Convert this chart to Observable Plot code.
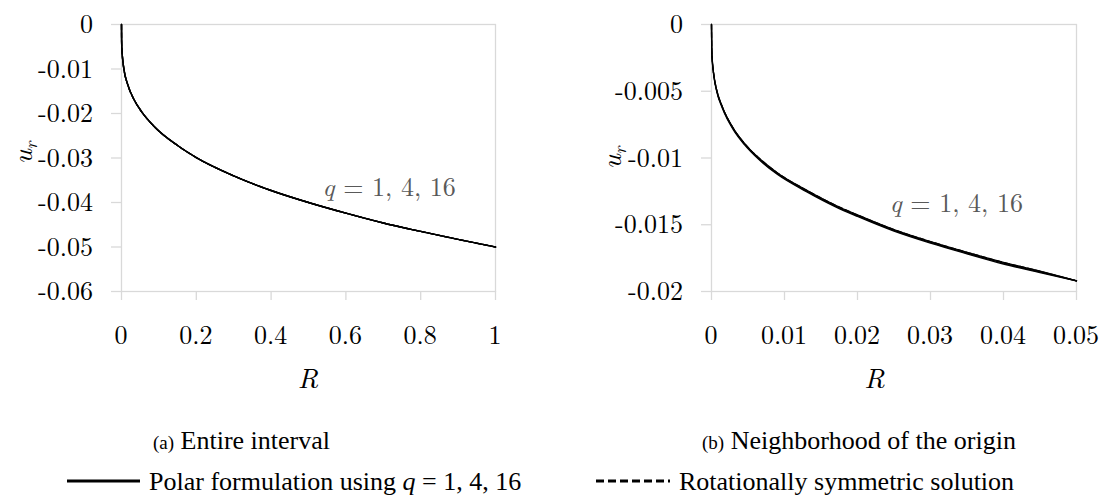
<!DOCTYPE html>
<html><head><meta charset="utf-8">
<script src="https://cdn.jsdelivr.net/npm/d3@7"></script>
<script src="https://cdn.jsdelivr.net/npm/@observablehq/plot@0.6"></script>
<style>
html,body{margin:0;padding:0;background:#fff;}
#wrap{position:relative;width:1100px;height:495px;overflow:hidden;color:#000;}
.panel{position:absolute;top:0;}
svg.overlay{position:absolute;left:0;top:0;overflow:visible;}
</style></head><body><div id="wrap"></div>
<script>
// ---- data ----
// (a) entire interval
const leftR      = [0, 0.0003, 0.001, 0.002, 0.006, 0.017, 0.033, 0.053, 0.086, 0.15, 0.2, 0.3, 0.4, 0.5, 0.6, 0.7, 0.8, 0.9, 1.0];
const leftPolar  = [0, -0.0037, -0.0055, -0.0068, -0.0098, -0.0136, -0.0168, -0.0195, -0.0228, -0.0272, -0.0299, -0.0340, -0.0373, -0.0400, -0.0424, -0.0446, -0.0465, -0.0483, -0.0500];
const leftRot    = [0, -0.0037, -0.0055, -0.0068, -0.0098, -0.0136, -0.0168, -0.0195, -0.0228, -0.0272, -0.0299, -0.0340, -0.0373, -0.0400, -0.0424, -0.0446, -0.0465, -0.0483, -0.0500];
// (b) neighborhood of the origin
const rightR        = [0, 0.00003, 0.0001, 0.0003, 0.00075, 0.0015, 0.003, 0.0045, 0.0065, 0.009, 0.013, 0.017, 0.02, 0.025, 0.03, 0.035, 0.04, 0.045, 0.05];
const rightPolarQ1  = [0, -0.0019, -0.0027, -0.0038, -0.0051, -0.0063, -0.0079, -0.0090, -0.01012, -0.01122, -0.01252, -0.01366, -0.01438, -0.01548, -0.01638, -0.01718, -0.01794, -0.01858, -0.0192];
const rightPolarQ4  = [0, -0.0018, -0.0026, -0.0037, -0.0050, -0.0062, -0.0078, -0.0089, -0.01006, -0.01116, -0.01246, -0.01360, -0.01432, -0.01542, -0.01632, -0.01712, -0.01788, -0.01853, -0.0192];
const rightPolarQ16 = [0, -0.0018, -0.0026, -0.0037, -0.0050, -0.0062, -0.0078, -0.0089, -0.01000, -0.01110, -0.01240, -0.01354, -0.01426, -0.01536, -0.01626, -0.01706, -0.01782, -0.01848, -0.0192];
const rightRot      = [0, -0.0018, -0.0026, -0.0037, -0.0050, -0.0062, -0.0078, -0.0089, -0.01000, -0.01110, -0.01240, -0.01354, -0.01426, -0.01536, -0.01626, -0.01706, -0.01782, -0.01848, -0.0192];

const leftXTicks  = [0, 0.2, 0.4, 0.6, 0.8, 1];
const leftXLabels = ["0", "0.2", "0.4", "0.6", "0.8", "1"];
const leftYTicks  = [0, -0.01, -0.02, -0.03, -0.04, -0.05, -0.06];
const leftYLabels = ["0", "-0.01", "-0.02", "-0.03", "-0.04", "-0.05", "-0.06"];
const rightXTicks  = [0, 0.01, 0.02, 0.03, 0.04, 0.05];
const rightXLabels = ["0", "0.01", "0.02", "0.03", "0.04", "0.05"];
const rightYTicks  = [0, -0.005, -0.01, -0.015, -0.02];
const rightYLabels = ["0", "-0.005", "-0.01", "-0.015", "-0.02"];

const captionA = "Entire interval";
const captionB = "Neighborhood of the origin";
const legendPolar = "Polar formulation using ";
const legendPolarQ = " = 1, 4, 16";
const legendRot = "Rotationally symmetric solution";
const annotText = " = 1, 4, 16";

const CM = "Latin Modern Roman, Liberation Serif, serif";
const TM = "Liberation Serif, Times New Roman, serif";
const GRAY = "#d9d9d9";
const wrap = document.getElementById("wrap");

function styleText(sel, fam, size) {
  sel.attr("font-family", fam).attr("font-size", size);
  sel.each(function() { this.style.setProperty("font-family", fam, "important"); this.style.setProperty("font-size", size + "px", "important"); });
  return sel;
}

function panel(cfg) {
  const rows = [];
  cfg.series.forEach(s => s.values.forEach((u, i) => rows.push({R: cfg.R[i], u, key: s.key, dashed: s.dashed})));
  const chart = Plot.plot({
    width: 550, height: 400,
    marginTop: 24, marginBottom: 109, marginLeft: cfg.mLeft, marginRight: cfg.mRight,
    style: {fontSize: "26px", fontFamily: CM, color: "#000", background: "transparent", overflow: "visible"},
    x: {domain: cfg.xDomain},
    y: {domain: cfg.yDomain},
    marks: [
      Plot.frame({stroke: GRAY, strokeWidth: 1.3}),
      Plot.axisX(cfg.xTicks, {tickSize: 9, tickFormat: () => "", color: GRAY, strokeWidth: 1.3, label: null}),
      Plot.axisY(cfg.yTicks, {tickSize: 10, tickFormat: () => "", color: GRAY, strokeWidth: 1.3, label: null}),
      Plot.line(rows.filter(d => !d.dashed), {x: "R", y: "u", z: "key", stroke: "#000", strokeWidth: cfg.sw, curve: "monotone-x"}),
      Plot.line(rows.filter(d => d.dashed), {x: "R", y: "u", z: "key", stroke: "#000", strokeWidth: cfg.sw, strokeDasharray: "5,3", curve: "monotone-x"})
    ]
  });
  const svg = d3.select(chart);
  const sx = chart.scale("x"), sy = chart.scale("y");
  const y0 = sy.apply(cfg.yDomain[0]), x0 = sx.apply(cfg.xDomain[0]);
  // tick labels positioned through the plot's scales
  const gx = svg.append("g");
  cfg.xTicks.forEach((t, i) => {
    styleText(gx.append("text").attr("x", sx.apply(t)).attr("y", y0 + 44).attr("dy", "0.35em")
      .attr("text-anchor", "middle").attr("fill", "#000").text(cfg.xLabels[i]), CM, 26);
  });
  const gy = svg.append("g");
  cfg.yTicks.forEach((t, i) => {
    styleText(gy.append("text").attr("x", x0 - 28).attr("y", sy.apply(t)).attr("dy", "0.35em")
      .attr("text-anchor", "end").attr("fill", "#000").text(cfg.yLabels[i]), CM, 26);
  });
  const yl = svg.append("text")
    .attr("transform", `translate(${cfg.yLabelX},${cfg.yLabelY}) rotate(-90)`)
    .attr("text-anchor", "middle").attr("dy", "0.35em").attr("font-style", "italic");
  styleText(yl, CM, 28);
  yl.append("tspan").text("u");
  styleText(yl.append("tspan").attr("dy", "0.3em").text("r"), CM, 18);
  styleText(svg.append("text")
    .attr("x", (sx.apply(cfg.xDomain[0]) + sx.apply(cfg.xDomain[1])) / 2 + cfg.xLabelShift)
    .attr("y", 378).attr("dy", "0.35em")
    .attr("text-anchor", "middle").attr("font-style", "italic").text("R"), CM, 28);
  const an = svg.append("text")
    .attr("x", sx.apply(cfg.annot[0])).attr("y", sy.apply(cfg.annot[1])).attr("dy", "0.35em")
    .attr("text-anchor", "middle").attr("fill", "#595959");
  styleText(an, CM, 26);
  an.append("tspan").attr("font-style", "italic").text("q");
  an.append("tspan").text(annotText);
  const div = document.createElement("div");
  div.className = "panel";
  div.style.left = cfg.left + "px";
  div.appendChild(chart);
  wrap.appendChild(div);
}

panel({
  left: 0, mLeft: 121, mRight: 55, sw: 1.4,
  R: leftR,
  series: [
    {key: "q1", values: leftPolar, dashed: false},
    {key: "q4", values: leftPolar, dashed: false},
    {key: "q16", values: leftPolar, dashed: false},
    {key: "rot", values: leftRot, dashed: true}
  ],
  xDomain: [0, 1], yDomain: [-0.06, 0],
  xTicks: leftXTicks, xLabels: leftXLabels, yTicks: leftYTicks, yLabels: leftYLabels,
  yLabelX: 22, yLabelY: 153, xLabelShift: 0,
  annot: [0.717, -0.0366]
});
panel({
  left: 550, mLeft: 161, mRight: 24, sw: 1.3,
  R: rightR,
  series: [
    {key: "q1", values: rightPolarQ1, dashed: false},
    {key: "q4", values: rightPolarQ4, dashed: false},
    {key: "q16", values: rightPolarQ16, dashed: false},
    {key: "rot", values: rightRot, dashed: true}
  ],
  xDomain: [0, 0.05], yDomain: [-0.02, 0],
  xTicks: rightXTicks, xLabels: rightXLabels, yTicks: rightYTicks, yLabels: rightYLabels,
  yLabelX: 61, yLabelY: 158, xLabelShift: -19,
  annot: [0.0336, -0.01339]
});

// captions and legend as SVG text
const ov = d3.create("svg").attr("class", "overlay").attr("width", 1100).attr("height", 495);
function capText(x, y, tag, text) {
  const t = ov.append("text").attr("x", x).attr("y", y).attr("dy", "0.35em").attr("fill", "#000");
  styleText(t, TM, 26);
  styleText(t.append("tspan").text(tag), TM, 19);
  styleText(t.append("tspan").text(" " + text), TM, 26);
}
capText(153, 440, "(a)", captionA);
capText(702, 440, "(b)", captionB);

ov.append("line").attr("x1", 67).attr("x2", 140).attr("y1", 481).attr("y2", 481)
  .attr("stroke", "#000").attr("stroke-width", 3);
const lt1 = ov.append("text").attr("x", 149).attr("y", 481).attr("dy", "0.35em").attr("fill", "#000");
styleText(lt1, TM, 26);
lt1.append("tspan").text(legendPolar);
lt1.append("tspan").attr("font-style", "italic").text("q");
lt1.append("tspan").text(legendPolarQ);
ov.append("line").attr("x1", 596).attr("x2", 670).attr("y1", 481).attr("y2", 481)
  .attr("stroke", "#000").attr("stroke-width", 3).attr("stroke-dasharray", "8,4");
const lt2 = ov.append("text").attr("x", 679).attr("y", 481).attr("dy", "0.35em").attr("fill", "#000");
styleText(lt2, TM, 26);
lt2.text(legendRot);
wrap.appendChild(ov.node());
</script>
</body></html>
